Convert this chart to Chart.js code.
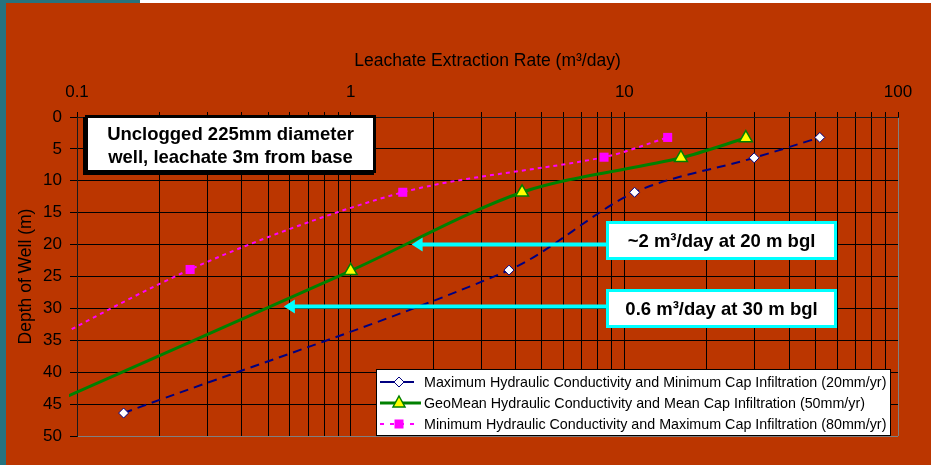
<!DOCTYPE html>
<html>
<head>
<meta charset="utf-8">
<script src="https://cdn.jsdelivr.net/npm/chart.js@4.4.1/dist/chart.umd.min.js"></script>
<style>
  html, body { margin: 0; padding: 0; background: #ffffff; }
  #wrap { width: 931px; height: 465px; }
</style>
</head>
<body>
<div id="wrap"><canvas id="myChart" width="931" height="465"></canvas></div>
<script>
// values (rate in m3/day, depth in m)
const maxCondRate = [0.148, 3.79, 10.9, 29.8, 51.8];
const maxCondDepth = [46.4, 24.0, 11.8, 6.4, 3.2];
const geoMeanRate = [0.067, 1.0, 4.23, 16.1, 27.8];
const geoMeanDepth = [46.4, 24.1, 11.8, 6.4, 3.3];
const minCondRate = [0.026, 0.259, 1.55, 8.43, 14.4];
const minCondDepth = [46.4, 23.9, 11.8, 6.3, 3.2];

const seriesLabels = [
  "Maximum Hydraulic Conductivity and Minimum Cap Infiltration (20mm/yr)",
  "GeoMean Hydraulic Conductivity and Mean Cap Infiltration (50mm/yr)",
  "Minimum Hydraulic Conductivity and Maximum Cap Infiltration (80mm/yr)"
];

const xDecades = [0.1, 1, 10];
const xTopTick = 100;
const yTickStep = 5;

const noteLines = ["Unclogged 225mm diameter", "well, leachate 3m from base"];
const calloutTexts = ["~2 m\u00b3/day at 20 m bgl", "0.6 m\u00b3/day at 30 m bgl"];
const calloutRate = [1.67, 0.57];
const calloutDepth = [20, 29.7];

const FONT = "'Liberation Sans', Arial, sans-serif";

function toPoints(xs, ys) {
  return xs.map((v, i) => ({ x: v, y: ys[i] }));
}

function xTickValues() {
  const vals = [];
  xDecades.forEach(d => {
    for (let m = 1; m <= 9; m++) vals.push(+(d * m).toPrecision(3));
  });
  vals.push(xTopTick);
  return vals;
}

function drawMarker(ctx, kind, x, y) {
  ctx.save();
  ctx.beginPath();
  if (kind === 'diamond') {
    ctx.moveTo(x, y - 5); ctx.lineTo(x + 5, y); ctx.lineTo(x, y + 5); ctx.lineTo(x - 5, y);
    ctx.closePath();
    ctx.fillStyle = '#ffffff'; ctx.fill();
    ctx.strokeStyle = '#000080'; ctx.lineWidth = 1; ctx.stroke();
  } else if (kind === 'triangle') {
    ctx.moveTo(x, y - 7); ctx.lineTo(x + 6, y + 4); ctx.lineTo(x - 6, y + 4);
    ctx.closePath();
    ctx.fillStyle = '#ffff00'; ctx.fill();
    ctx.strokeStyle = '#008000'; ctx.lineWidth = 1.5; ctx.stroke();
  } else {
    ctx.fillStyle = '#ff00ff';
    ctx.fillRect(x - 4.5, y - 4.5, 9, 9);
  }
  ctx.restore();
}

const backgroundPlugin = {
  id: 'slideBackground',
  beforeDraw(chart) {
    const ctx = chart.ctx;
    ctx.save();
    ctx.fillStyle = '#bb3600';
    ctx.fillRect(0, 0, chart.width, chart.height);
    ctx.fillStyle = '#ffffff';
    ctx.fillRect(140, 0, chart.width - 140, 3);
    ctx.fillStyle = '#27737e';
    ctx.fillRect(0, 0, 140, 3);
    ctx.fillRect(0, 0, 6, chart.height);
    ctx.restore();
  }
};

function drawTextBox(ctx, left, top, w, h, border, lines, lineYs) {
  ctx.fillStyle = '#ffffff';
  ctx.fillRect(left, top, w, h);
  ctx.strokeStyle = border;
  ctx.lineWidth = 3;
  ctx.strokeRect(left + 1.5, top + 1.5, w - 3, h - 3);
  ctx.fillStyle = '#000000';
  ctx.font = "bold 18.5px " + FONT;
  ctx.textAlign = 'center';
  ctx.textBaseline = 'middle';
  lines.forEach((t, i) => ctx.fillText(t, left + w / 2, lineYs[i]));
}

const calloutPlugin = {
  id: 'callouts',
  afterDatasetsDraw(chart) {
    const { ctx, scales } = chart;
    ctx.save();
    // shadowed note in the upper left
    ctx.fillStyle = '#000000';
    ctx.fillRect(83, 117, 291, 58);
    drawTextBox(ctx, 85, 115, 291, 58, '#000000', noteLines, [135, 158]);

    const boxLeft = 606, boxW = 231, boxH = 39;
    const boxTops = [221, 289];
    calloutTexts.forEach((t, i) => {
      const tipX = scales.x.getPixelForValue(calloutRate[i]);
      const tipY = scales.y.getPixelForValue(calloutDepth[i]);
      ctx.strokeStyle = '#00ffff';
      ctx.lineWidth = 4;
      ctx.beginPath();
      ctx.moveTo(tipX + 8, tipY);
      ctx.lineTo(boxLeft, tipY);
      ctx.stroke();
      ctx.fillStyle = '#00ffff';
      ctx.beginPath();
      ctx.moveTo(tipX, tipY);
      ctx.lineTo(tipX + 11, tipY - 7);
      ctx.lineTo(tipX + 11, tipY + 7);
      ctx.closePath();
      ctx.fill();
      drawTextBox(ctx, boxLeft, boxTops[i], boxW, boxH, '#00ffff', [t], [boxTops[i] + boxH / 2 + 1]);
    });
    ctx.restore();
  }
};

const legendPlugin = {
  id: 'boxLegend',
  afterDraw(chart) {
    const ctx = chart.ctx;
    const left = 376, top = 369, right = 891, bottom = 436;
    const rowY = [382, 403, 424];
    const kinds = ['diamond', 'triangle', 'square'];
    ctx.save();
    ctx.fillStyle = '#ffffff';
    ctx.fillRect(left, top, right - left, bottom - top);
    ctx.strokeStyle = '#000000';
    ctx.lineWidth = 1;
    ctx.strokeRect(left + 0.5, top + 0.5, right - left - 1, bottom - top - 1);
    chart.data.datasets.forEach((ds, i) => {
      const y = rowY[i];
      ctx.strokeStyle = ds.borderColor;
      ctx.lineWidth = ds.borderWidth;
      ctx.setLineDash(i === 2 ? [4, 6] : []);
      ctx.beginPath();
      ctx.moveTo(380, y);
      ctx.lineTo(i === 1 ? 421 : 414, y);
      ctx.stroke();
      ctx.setLineDash([]);
      drawMarker(ctx, kinds[i], 399, y);
      ctx.fillStyle = '#000000';
      ctx.font = "14.3px " + FONT;
      ctx.textAlign = 'left';
      ctx.textBaseline = 'middle';
      ctx.fillText(seriesLabels[i], 424, y + 1);
    });
    ctx.restore();
  }
};

const lineClip = { left: 8, top: 0, right: 0, bottom: 0 };

const ctx = document.getElementById("myChart").getContext("2d");
const chart = new Chart(ctx, {
  type: "scatter",
  data: {
    datasets: [
      {
        label: seriesLabels[0],
        data: toPoints(maxCondRate, maxCondDepth),
        showLine: true,
        borderColor: '#000080',
        borderWidth: 2,
        borderDash: [9, 6],
        tension: 0.3,
        pointStyle: 'rectRot',
        pointRadius: 5,
        pointBackgroundColor: '#ffffff',
        pointBorderColor: '#000080',
        pointBorderWidth: 1,
        clip: lineClip
      },
      {
        label: seriesLabels[1],
        data: toPoints(geoMeanRate, geoMeanDepth),
        showLine: true,
        borderColor: '#008000',
        borderWidth: 3,
        tension: 0.3,
        pointStyle: 'triangle',
        pointRadius: 7.5,
        pointBackgroundColor: '#ffff00',
        pointBorderColor: '#008000',
        pointBorderWidth: 1.5,
        clip: lineClip
      },
      {
        label: seriesLabels[2],
        data: toPoints(minCondRate, minCondDepth),
        showLine: true,
        borderColor: '#ff00ff',
        borderWidth: 2,
        borderDash: [4, 4],
        tension: 0.3,
        pointStyle: 'rect',
        pointRadius: 6.4,
        pointBackgroundColor: '#ff00ff',
        pointBorderColor: '#ff00ff',
        pointBorderWidth: 0,
        clip: lineClip
      }
    ]
  },
  options: {
    responsive: false,
    animation: false,
    layout: { padding: { left: 0, right: 33, top: 0, bottom: 29 } },
    plugins: {
      legend: { display: false },
      tooltip: { enabled: false }
    },
    scales: {
      x: {
        type: "logarithmic",
        position: "top",
        min: 0.1,
        max: 100,
        afterBuildTicks: scale => {
          scale.ticks = xTickValues().map(v => ({ value: v }));
        },
        afterFit: scale => { scale.height = 117; },
        ticks: {
          autoSkip: false,
          maxRotation: 0,
          padding: 9,
          color: '#000000',
          font: { family: FONT, size: 17 },
          callback: v => {
            const e = Math.log10(v);
            return Math.abs(e - Math.round(e)) < 1e-6 ? String(v) : '';
          }
        },
        grid: {
          color: c => (c.tick && c.tick.value === xTopTick ? '#808080' : '#000000'),
          tickColor: '#000000',
          tickLength: 5,
          lineWidth: 1
        },
        border: { color: '#1a1a1a' },
        title: {
          display: true,
          text: "Leachate Extraction Rate (m\u00b3/day)",
          color: '#000000',
          font: { family: FONT, size: 17.5 },
          padding: { top: 51, bottom: 0 }
        }
      },
      y: {
        type: "linear",
        reverse: true,
        min: 0,
        max: 50,
        afterFit: scale => { scale.width = 77; },
        ticks: {
          stepSize: yTickStep,
          padding: 8,
          color: '#000000',
          font: { family: FONT, size: 17 }
        },
        grid: {
          color: c => (c.tick && c.tick.value === 50 ? '#808080' : '#000000'),
          tickColor: '#000000',
          tickLength: 7,
          lineWidth: 1
        },
        border: { color: '#1a1a1a' },
        title: {
          display: true,
          text: "Depth of Well (m)",
          color: '#000000',
          font: { family: FONT, size: 17.5 },
          padding: { top: 16, bottom: 0 }
        }
      }
    }
  },
  plugins: [backgroundPlugin, calloutPlugin, legendPlugin]
});
</script>
</body>
</html>
